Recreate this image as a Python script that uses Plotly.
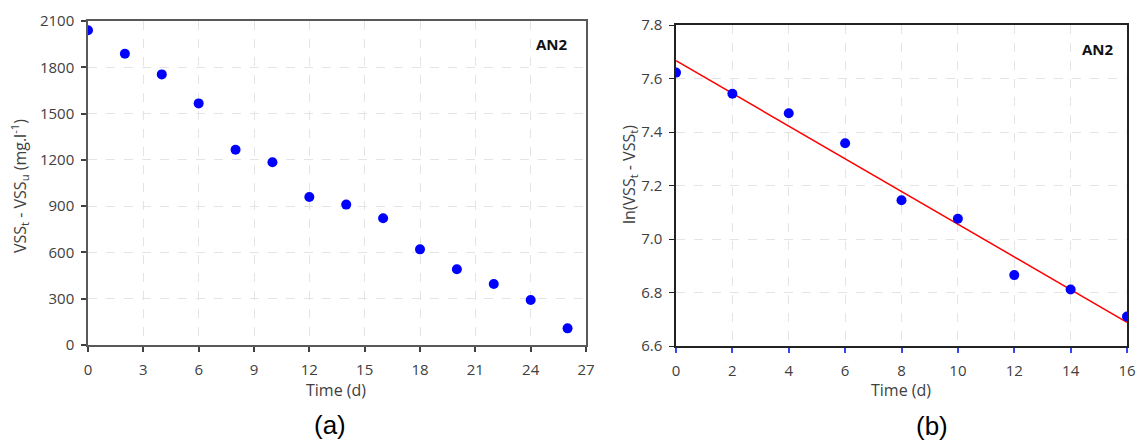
import numpy as np
import plotly.graph_objects as go

# Panel (a): VSS decay over time
time_a = [0, 2, 4, 6, 8, 10, 12, 14, 16, 18, 20, 22, 24, 26]
vss_diff = [2040, 1888, 1754, 1566, 1266, 1184, 959, 910, 821, 620, 491, 395, 292, 108]

# Panel (b): log-transformed VSS with linear fit
time_b = [0, 2, 4, 6, 8, 10, 12, 14, 16]
ln_vss = [7.622, 7.543, 7.470, 7.358, 7.145, 7.076, 6.865, 6.811, 6.710]

x_ticks_a = [0, 3, 6, 9, 12, 15, 18, 21, 24, 27]
y_ticks_a = [0, 300, 600, 900, 1200, 1500, 1800, 2100]
x_ticks_b = [0, 2, 4, 6, 8, 10, 12, 14, 16]
y_ticks_b = [6.6, 6.8, 7.0, 7.2, 7.4, 7.6, 7.8]

W, H = 1136, 441
TICK_FONT = dict(family="Open Sans", size=15, color="#404040")
BLUE = "#0000FF"

slope, intercept = np.polyfit(time_b, ln_vss, 1)
fit_x = [time_b[0], time_b[-1]]
fit_y = [intercept + slope * x for x in fit_x]

fig = go.Figure()
fig.add_trace(go.Scatter(x=time_a, y=vss_diff, mode="markers",
                         marker=dict(color=BLUE, size=10),
                         xaxis="x", yaxis="y", showlegend=False))
fig.add_trace(go.Scatter(x=fit_x, y=fit_y, mode="lines",
                         line=dict(color="#FF0000", width=1.5),
                         xaxis="x2", yaxis="y2", showlegend=False))
fig.add_trace(go.Scatter(x=time_b, y=ln_vss, mode="markers",
                         marker=dict(color=BLUE, size=10),
                         xaxis="x2", yaxis="y2", showlegend=False))


def px_x(p):
    return p / W


def px_y(p):
    return 1 - p / H


grid = dict(showgrid=True, gridcolor="#e4e4e4", griddash="dash", gridwidth=1,
            zeroline=False, tickfont=TICK_FONT, ticks="outside", ticklen=5,
            mirror=True, showline=True, automargin=False)

fig.update_layout(
    width=W, height=H, margin=dict(l=0, r=0, t=0, b=0),
    paper_bgcolor="white", plot_bgcolor="white",
    xaxis=dict(domain=[px_x(88), px_x(586)], range=[0, 27], tickvals=x_ticks_a,
               anchor="y", linecolor="#595959", linewidth=1.5, tickcolor="#404040",
               tickwidth=1.5, ticklabelstandoff=5, **grid),
    yaxis=dict(domain=[px_y(345), px_y(21)], range=[0, 2100], tickvals=y_ticks_a,
               anchor="x", linecolor="#595959", linewidth=1.5, tickcolor="#404040",
               tickwidth=1.5, ticklabelstandoff=4, **grid),
    xaxis2=dict(domain=[px_x(676), px_x(1127)], range=[0, 16], tickvals=x_ticks_b,
                anchor="y2", linecolor="#222222", linewidth=1.5, tickcolor="#3344ff",
                tickwidth=1.5, ticklabelstandoff=5, **grid),
    yaxis2=dict(domain=[px_y(346), px_y(25)], range=[6.6, 7.8], tickvals=y_ticks_b,
                tickformat=".1f", anchor="x2", linecolor="#222222", linewidth=1.5,
                tickcolor="#222222", tickwidth=1.2, ticklabelstandoff=4, **grid),
)

ann = []
title_font = dict(family="Open Sans", size=16, color="#404040")
ann.append(dict(x=px_x(336), y=px_y(390), text="Time (d)", font=title_font))
ann.append(dict(x=px_x(901), y=px_y(390), text="Time (d)", font=title_font))
ann.append(dict(x=px_x(19), y=px_y(186), textangle=-90, font=title_font,
                text="VSS<sub>t</sub> - VSS<sub>u</sub> (mg.l<sup>-1</sup>)"))
ann.append(dict(x=px_x(630), y=px_y(175), textangle=-90, font=title_font,
                text="ln(VSS<sub>t</sub> - VSS<sub>t</sub>)"))
label_font = dict(family="Open Sans", size=15, color="#111111")
ann.append(dict(x=px_x(552), y=px_y(44), text="<b>AN2</b>", font=label_font))
ann.append(dict(x=px_x(1098), y=px_y(49), text="<b>AN2</b>", font=label_font))
panel_font = dict(family="Liberation Sans", size=26, color="#000000")
ann.append(dict(x=px_x(330), y=px_y(425), text="(a)", font=panel_font))
ann.append(dict(x=px_x(932), y=px_y(426), text="(b)", font=panel_font))

for a in ann:
    a.update(xref="paper", yref="paper", showarrow=False,
             xanchor="center", yanchor="middle")
fig.update_layout(annotations=ann)

fig.write_html("out.html")
